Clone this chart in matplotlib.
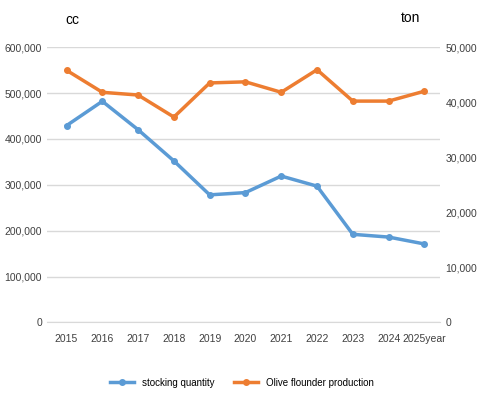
import matplotlib
matplotlib.use("Agg")
import matplotlib.pyplot as plt
from matplotlib.ticker import FuncFormatter

years = ["2015", "2016", "2017", "2018", "2019", "2020", "2021", "2022", "2023", "2024", "2025year"]
stocking = [429000, 482000, 420000, 352000, 278000, 283000, 319000, 297000, 192000, 186000, 171000]
production = [45800, 41800, 41300, 37300, 43500, 43700, 41800, 45900, 40200, 40200, 42000]

BLUE = "#5b9bd5"
ORANGE = "#ed7d31"
plt.rcParams["font.family"] = ["Liberation Sans", "DejaVu Sans"]

fig = plt.figure(figsize=(4.83, 4.03), dpi=100)
ax = fig.add_axes([0.097, 0.2, 0.815, 0.683])
ax2 = ax.twinx()

x = range(len(years))
l1, = ax.plot(x, stocking, color=BLUE, lw=2.5, marker="o", ms=4, label="stocking quantity")
l2, = ax2.plot(x, production, color=ORANGE, lw=2.5, marker="o", ms=4, label="Olive flounder production")

ax.set_ylim(0, 600000)
ax2.set_ylim(0, 50000)
ax.set_xlim(-0.55, len(years) - 0.55)
ax.set_yticks(range(0, 600001, 100000))
ax2.set_yticks(range(0, 50001, 10000))
fmt = FuncFormatter(lambda v, p: f"{int(v):,}")
ax.yaxis.set_major_formatter(fmt)
ax2.yaxis.set_major_formatter(fmt)
ax.set_xticks(list(x))
ax.set_xticklabels(years)
ax.grid(axis="y", color="#d9d9d9", lw=1)
ax.set_axisbelow(True)
for a in (ax, ax2):
    for s in a.spines.values():
        s.set_visible(False)
    a.tick_params(length=0, labelsize=7.5, colors="#404040")
ax.tick_params(axis="x", pad=8)
ax.spines["bottom"].set_visible(True)
ax.spines["bottom"].set_color("#d9d9d9")

fig.text(0.15, 0.95, "cc", fontsize=10, ha="center", va="center")
fig.text(0.85, 0.955, "ton", fontsize=10, ha="center", va="center")
fig.legend(handles=[l1, l2], loc="center", bbox_to_anchor=(0.5, 0.05), ncol=2,
           frameon=False, fontsize=7, handlelength=2.5)

fig.savefig("out.png", dpi=100)
